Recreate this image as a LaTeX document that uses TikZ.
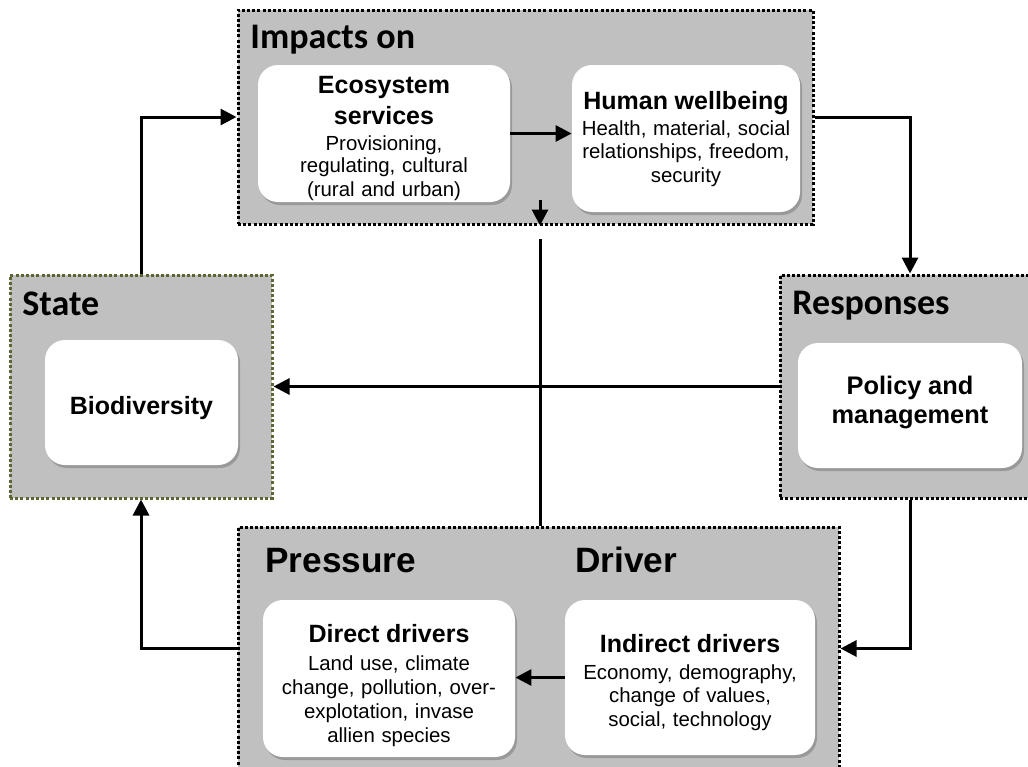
\documentclass[tikz,border=0pt]{standalone}
\usepackage{fontspec}
\setmainfont{Liberation Sans}
\newfontfamily\calibri{Carlito}
\usetikzlibrary{arrows.meta}
\usetikzlibrary{fit}
\usetikzlibrary{shadows}
\definecolor{panelgray}{RGB}{192,192,192}
\definecolor{olivedot}{RGB}{92,102,48}

\begin{document}
\begin{tikzpicture}[x=0.5pt, y=-0.5pt,
    panel/.style = {fill=panelgray, draw=black, line width=1.5pt,
                dash pattern=on 1.5pt off 1.1pt, inner sep=0pt},
    box/.style = {fill=white, rounded corners=10pt, inner sep=0pt,
                drop shadow={shadow xshift=1pt, shadow yshift=-1.5pt,
                fill=black!55, opacity=0.5}},
    txt/.style = {align=center, text width=112pt, inner sep=0pt, anchor=north},
    head/.style = {font=\calibri\bfseries\fontsize{18}{20}\selectfont,
                anchor=base west, inner sep=0pt},
    bighead/.style = {font=\bfseries\fontsize{17.6}{19}\selectfont,
                anchor=base west, inner sep=0pt},
    line/.style = {line width=1.5pt},
    arr/.style = {line, -{Triangle[length=8pt, width=8pt]}}
                    ]
    \def\hd{\lineskiplimit=-20pt\bfseries\fontsize{12.5}{14.5}\selectfont}
    \def\tx#1{\lineskiplimit=-20pt\mdseries\fontsize{10.2}{#1}\selectfont}
    \clip (0,0) rectangle (1028,766);
    % panels
    \node[panel, fit={(238,10) (813,224)}] (imp) {};
    \node[panel, draw=olivedot, fit={(10,275) (272,498)}] (sta) {};
    \node[panel, fit={(780,275) (1040,498)}] (res) {};
    \node[panel, fit={(238,527) (839,770)}] (drv) {};
    % panel titles
    \node[head] at (250,48) (timp) {Impacts on};
    \node[head] at (22,315) (tsta) {State};
    \node[head] at (792,314) (tres) {Responses};
    \node[bighead] at (265,572) (tpre) {Pressure};
    \node[bighead] at (575,572) (tdrv) {Driver};
    % inner boxes
    \node[box, fit={(258,65) (510,202)}] (es) {};
    \node[box, fit={(572,65) (800,212)}] (hw) {};
    \node[box, fit={(45,340) (238,465)}] (bio) {};
    \node[box, fit={(798,343) (1022,468)}] (pol) {};
    \node[box, fit={(263,600) (515,757)}] (dir) {};
    \node[box, fit={(565,600) (815,755)}] (ind) {};
    % box texts
    \node[txt] at (es.center |- 0,76) (es-t)
        {\hd Ecosystem\\[1pt]services\\[2pt]\tx{11pt} Provisioning,\\[0pt]regulating, cultural\\[0pt](rural and urban)};
    \node[txt] at (hw.center |- 0,91) (hw-t)
        {\hd Human wellbeing\\[1.3pt]\tx{11.7pt} Health, material, social\\[0pt]relationships, freedom,\\[0pt]security};
    \node[txt] at (bio.center |- 0,396) (bio-t) {\hd Biodiversity};
    \node[txt] at (pol.center |- 0,376) (pol-t)
        {\lineskiplimit=-20pt\bfseries\fontsize{12.7}{14}\selectfont Policy and\\[2.5pt]management};
    \node[txt] at (dir.center |- 0,624) (dir-t)
        {\hd Direct drivers\\[2pt]\tx{12pt} Land use, climate\\[0pt]change, pollution, over-\\[0pt]explotation, invase\\[0pt]allien species};
    \node[txt] at (ind.center |- 0,634) (ind-t)
        {\hd Indirect drivers\\[2pt]\tx{11.5pt} Economy, demography,\\[0pt]change of values,\\[0pt]social, technology};
    % connectors
    \draw[arr] (sta.north) |- (imp.west);
    \draw[arr] (imp.east) -| (res.north);
    \draw[arr] (res.south) |- (drv.east);
    \draw[arr] (res.west) -- (sta.east);
    \draw[arr] (drv.west) -| (sta.south);
    \draw[arr] (es.east) -- (es.east -| hw.west);
    \draw[arr] (ind.west) -- (ind.west -| dir.east);
    \coordinate (gap) at (540,239);
    \coordinate (tip) at (540,200);
    \draw[line] (drv.north -| gap) -- (gap);
    \draw[arr] (tip) -- (imp.south -| tip);
\end{tikzpicture}
\end{document}
